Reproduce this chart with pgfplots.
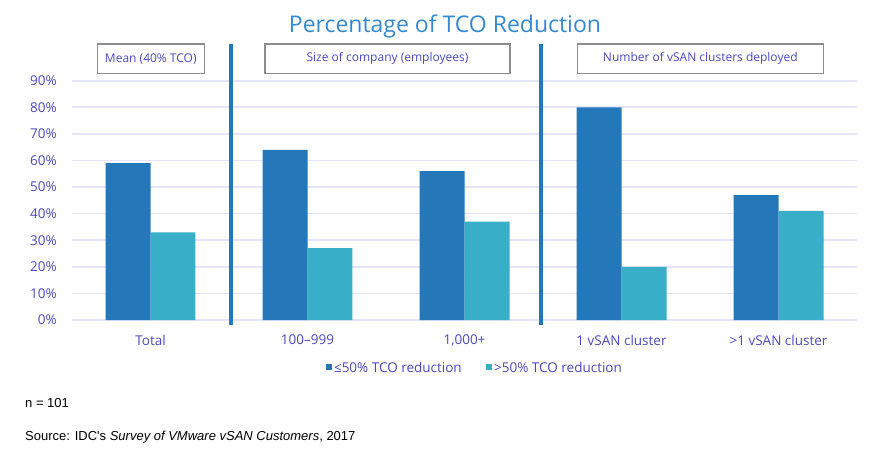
\documentclass[border=0pt]{standalone}
\usepackage{fontspec}
\setmainfont{Open Sans}
\newfontfamily\arialfont{Liberation Sans}
\usepackage{pgfplots}
\pgfplotsset{compat=1.18}
\definecolor{barA}{HTML}{2478BA}
\definecolor{barB}{HTML}{38AEC8}
\definecolor{titlec}{HTML}{3489D3}
\definecolor{tickc}{HTML}{4B48C6}
\definecolor{gridc}{HTML}{E4E4FA}
\definecolor{boxc}{HTML}{8C8C8C}
\begin{document}
\begin{tikzpicture}
\path[use as bounding box] (0pt,0pt) rectangle (878pt,461pt);
\begin{axis}[
  at={(72pt,141pt)}, anchor=south west,
  scale only axis, width=785pt, height=239.3pt,
  xmin=-0.5, xmax=4.5, ymin=0, ymax=90,
  axis line style={draw=none},
  tick style={draw=none},
  major tick length=0pt,
  ytick={0,10,...,90},
  ymajorgrids, grid style={draw=gridc, line width=1.6pt},
  /pgf/number format/assume math mode=true,
  yticklabel={\pgfmathprintnumber{\tick}\%},
  yticklabel style={font=\fontsize{13.5}{16}\selectfont, text=tickc, anchor=east, inner sep=0pt, xshift=-15pt},
  xtick=data,
  xticklabels={Total,{100–999},{1,000+},{1 vSAN cluster},{>1 vSAN cluster}},
  xticklabel style={font=\fontsize{13.5}{16}\selectfont, text=tickc, anchor=north, inner sep=0pt, yshift=-15pt},
  clip=false,
  legend style={at={(0.513,-0.2)}, anchor=center, draw=none, fill=none, legend columns=2,
    font=\fontsize{13.5}{16}\selectfont, text=tickc,
    /tikz/every even column/.append style={column sep=22pt}},
]
\addplot[ybar, bar width=0.2866, bar shift=-0.1433, fill=barA, draw=none,
  legend image code/.code={\fill[barA] (0pt,-2.5pt) rectangle (6.5pt,4pt);}]
  coordinates {(0,59) (1,64) (2,56) (3,80) (4,47)};
\addlegendentry{≤50\% TCO reduction}
\addplot[ybar, bar width=0.2866, bar shift=0.1433, fill=barB, draw=none,
  legend image code/.code={\fill[barB] (0pt,-2.5pt) rectangle (6.5pt,4pt);}]
  coordinates {(0,33) (1,27) (2,37) (3,20) (4,41)};
\addlegendentry{>50\% TCO reduction}
\end{axis}
% separators
\draw[barA, line width=4pt] (231.3pt,136pt) -- (231.3pt,417pt);
\draw[barA, line width=4pt] (540.7pt,136pt) -- (540.7pt,417pt);
% boxes
\draw[boxc, line width=1.2pt] (97.3pt,417pt) rectangle (204.3pt,387.7pt);
\draw[boxc, line width=1.2pt] (265pt,417pt) rectangle (510pt,387.7pt);
\draw[boxc, line width=1.2pt] (577.3pt,417pt) rectangle (823.3pt,387.7pt);
\node[text=tickc, font=\fontsize{12}{15}\selectfont, inner sep=0pt] at (150.8pt,402.3pt) {Mean (40\% TCO)};
\node[text=tickc, font=\fontsize{12}{15}\selectfont, inner sep=0pt] at (387.5pt,402.3pt) {Size of company (employees)};
\node[text=tickc, font=\fontsize{12}{15}\selectfont, inner sep=0pt] at (700.3pt,402.3pt) {Number of vSAN clusters deployed};
% title
\node[anchor=base, text=titlec, font=\fontsize{23}{28}\selectfont, inner sep=0pt] at (445pt,428pt) {Percentage of TCO Reduction};
% notes
\node[anchor=base west, font=\arialfont\fontsize{13}{15}\selectfont, inner sep=0pt] at (25pt,54pt) {n = 101};
\node[anchor=base west, font=\arialfont\fontsize{13}{15}\selectfont, inner sep=0pt] at (25pt,21pt) {Source: IDC's \textit{Survey of VMware vSAN Customers}, 2017};
\end{tikzpicture}
\end{document}
